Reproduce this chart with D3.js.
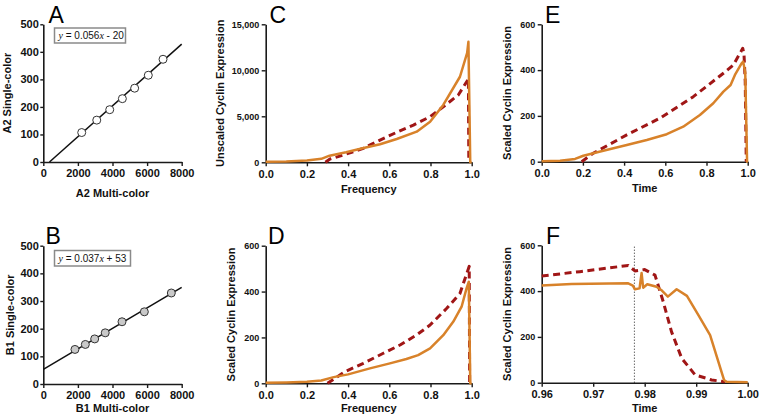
<!DOCTYPE html>
<html><head><meta charset="utf-8">
<script src="https://cdn.jsdelivr.net/npm/d3@7"></script>
<style>
body{margin:0;background:#fff}
svg{display:block}
text{font-family:"Liberation Sans",Arial,sans-serif}
</style>
</head><body>
<svg id="chart" width="761" height="419"></svg>
<script>
// ---------- DATA ----------
// Panel A (calibration, A2)
const a2Multi  = [2220, 3090, 3840, 4570, 5280, 6070, 6920];
const a2Single = [107, 152, 190, 230, 268, 315, 373];
const aSlope = 0.056, aIntercept = -20;
// Panel B (calibration, B1)
const b1Multi  = [1830, 2430, 2970, 3580, 4550, 5840, 7400];
const b1Single = [125, 143, 163, 185, 225, 261, 329];
const bSlope = 0.037, bIntercept = 53;
// Tick labels
const calXTicks = [0, 2000, 4000, 6000, 8000];
const calYTicks = [0, 100, 200, 300, 400, 500];
const freqTicks = [0, 0.2, 0.4, 0.6, 0.8, 1.0];
const unscaledTicks = [0, 5000, 10000, 15000];
const scaledTicks = [0, 200, 400, 600];
const zoomTimeTicks = [0.96, 0.97, 0.98, 0.99, 1.00];
// Panel C (unscaled vs frequency)
const cSolidX = [0, 0.1, 0.2, 0.27, 0.31, 0.39, 0.47, 0.555, 0.636, 0.733, 0.798, 0.862, 0.943, 0.978, 0.984, 0.993, 1.0];
const cSolidY = [50, 100, 200, 380, 720, 1090, 1520, 1960, 2530, 3330, 4410, 6230, 9300, 11900, 13100, 0, 0];
const cDashX = [0.29, 0.312, 0.377, 0.474, 0.555, 0.636, 0.717, 0.798, 0.862, 0.935, 0.981, 0.984, 0.986];
const cDashY = [0, 360, 790, 1520, 2420, 3260, 4050, 4960, 6040, 7320, 8950, 9100, 0];
// Panel D (scaled vs frequency)
const dSolidX = [0, 0.1, 0.2, 0.27, 0.33, 0.40, 0.506, 0.603, 0.683, 0.74, 0.798, 0.862, 0.911, 0.951, 0.975, 0.986, 0.993, 1.0];
const dSolidY = [2, 4, 7, 12, 27, 39, 65, 87, 106, 123, 152, 210, 269, 334, 414, 443, 0, 0];
const dDashX = [0.30, 0.385, 0.474, 0.571, 0.652, 0.733, 0.798, 0.879, 0.943, 0.988, 0.99];
const dDashY = [0, 51, 87, 131, 167, 211, 254, 327, 392, 510, 0];
// Panel E (scaled vs time)
const eSolidX = [0, 0.089, 0.162, 0.202, 0.299, 0.413, 0.51, 0.607, 0.687, 0.768, 0.833, 0.882, 0.917, 0.938, 0.971, 0.978, 0.988, 0.997, 1.0];
const eSolidY = [2, 4, 12, 26, 48, 73, 95, 120, 153, 204, 255, 306, 335, 379, 430, 437, 390, 0, 0];
const eDashX = [0.194, 0.25, 0.413, 0.574, 0.736, 0.882, 0.93, 0.976, 0.982, 0.988, 0.993];
const eDashY = [0, 37, 117, 190, 284, 386, 422, 495, 470, 350, 0];
// Panel F (zoom on end of cycle)
const fSolidX = [0.96, 0.9658, 0.9768, 0.9777, 0.9781, 0.979, 0.9794, 0.9797, 0.9805, 0.9823, 0.9832, 0.9845, 0.9862, 0.9882, 0.9904, 0.9927, 0.9954, 0.9959, 1.0];
const fSolidY = [424, 431, 434, 424, 408, 412, 479, 415, 430, 419, 405, 376, 408, 379, 296, 208, 12, 4, 2];
const fDashX = [0.96, 0.9674, 0.9768, 0.9781, 0.980, 0.982, 0.9836, 0.9852, 0.9872, 0.9898, 0.993, 0.9956];
const fDashY = [466, 485, 512, 488, 494, 470, 354, 223, 106, 34, 12, 4];
const fDivider = 0.978;

// ---------- STYLE ----------
const AXIS = "#1a1a1a";
const ORANGE = "#d8822a";
const RED = "#a01616";
const svg = d3.select("#chart");

function makePanel(c) {
  const x = d3.scaleLinear().domain(c.xd).range([c.x0, c.x1]);
  const y = d3.scaleLinear().domain(c.yd).range([c.y0, c.y1]);
  const g = svg.append("g");

  const xa = g.append("g").attr("transform", `translate(0,${c.y0})`)
    .call(d3.axisBottom(x).tickValues(c.xt).tickFormat(c.xf)
      .tickSize(4).tickPadding(3.5).tickSizeOuter(0));
  const ya = g.append("g").attr("transform", `translate(${c.x0},0)`)
    .call(d3.axisLeft(y).tickValues(c.yt).tickFormat(c.yf)
      .tickSize(c.yts).tickPadding(c.ytp).tickSizeOuter(0));
  [xa, ya].forEach(a => {
    a.attr("font-family", null).attr("font-size", null);
    a.select(".domain").attr("stroke", AXIS).attr("stroke-width", 1.6);
    a.selectAll(".tick line").attr("stroke", AXIS).attr("stroke-width", 1.4);
    a.selectAll(".tick text").attr("fill", "#111").style("font-weight", "bold");
  });
  xa.selectAll(".tick text").style("font-size", "11px");
  ya.selectAll(".tick text").style("font-size", c.yfs + "px");

  g.append("text").attr("x", (c.x0 + c.x1) / 2).attr("y", c.xty)
    .attr("text-anchor", "middle").style("font-size", "11px").style("font-weight", "bold")
    .attr("fill", "#111").text(c.xtitle);
  g.append("text").attr("transform", `translate(${c.ytx},${(c.y0 + c.y1) / 2}) rotate(-90)`)
    .attr("text-anchor", "middle").style("font-size", "11px").style("font-weight", "bold")
    .attr("fill", "#111").text(c.ytitle);
  g.append("text").attr("x", c.lx).attr("y", c.ly).style("font-size", "23px")
    .attr("fill", "#000").text(c.letter);
  return {x, y, g};
}

function calibration(p, xs, ys, slope, intercept, fill, eqText, box) {
  const xStart = Math.max(0, -intercept / slope);
  p.g.append("line")
    .attr("x1", p.x(xStart)).attr("y1", p.y(slope * xStart + intercept))
    .attr("x2", p.x(8000)).attr("y2", p.y(slope * 8000 + intercept))
    .attr("stroke", "#111").attr("stroke-width", 1.5);
  p.g.selectAll("circle.pt").data(xs.map((v, i) => [v, ys[i]])).enter()
    .append("circle").attr("class", "pt")
    .attr("cx", d => p.x(d[0])).attr("cy", d => p.y(d[1])).attr("r", 4)
    .attr("fill", fill).attr("stroke", "#333").attr("stroke-width", 1);
  p.g.append("rect").attr("x", box[0]).attr("y", box[1]).attr("width", box[2]).attr("height", box[3])
    .attr("fill", "#fff").attr("stroke", "#8a8a8a").attr("stroke-width", 1.5);
  const t = p.g.append("text").attr("x", box[0] + 4).attr("y", box[1] + box[3] - 4.5)
    .style("font-size", "10px").attr("fill", "#111");
  t.append("tspan").style("font-family", "'Liberation Serif','Times New Roman',serif").style("font-style", "italic").text("y");
  t.append("tspan").text(" = " + eqText[0]);
  t.append("tspan").style("font-family", "'Liberation Serif','Times New Roman',serif").style("font-style", "italic").text("x");
  t.append("tspan").text(" " + eqText[1]);
}

function curves(p, sx, sy, dx, dy) {
  const line = d3.line().x(d => p.x(d[0])).y(d => p.y(d[1]));
  p.g.append("path").datum(dx.map((v, i) => [v, dy[i]])).attr("d", line)
    .attr("fill", "none").attr("stroke", RED).attr("stroke-width", 3)
    .attr("stroke-dasharray", "7,4.5").attr("stroke-linejoin", "round");
  p.g.append("path").datum(sx.map((v, i) => [v, sy[i]])).attr("d", line)
    .attr("fill", "none").attr("stroke", ORANGE).attr("stroke-width", 2.5)
    .attr("stroke-linejoin", "round");
}

const fmtInt = d3.format("d"), fmtComma = d3.format(","), fmt1 = d3.format(".1f"), fmt2 = d3.format(".2f");

// Panel A
const pA = makePanel({x0: 43.3, x1: 181.7, y0: 162, y1: 24.3, xd: [0, 8000], yd: [0, 500],
  xt: calXTicks, yt: calYTicks, xf: fmtInt, yf: fmtInt, yts: 3, ytp: 1.5, yfs: 11,
  xtitle: "A2 Multi-color", xty: 196.5, ytitle: "A2 Single-color", ytx: 10.8,
  letter: "A", lx: 48.5, ly: 23});
calibration(pA, a2Multi, a2Single, aSlope, aIntercept, "#fff", ["0.056", "- 20"], [54.5, 28, 71, 15]);

// Panel B
const pB = makePanel({x0: 43.3, x1: 181.7, y0: 384, y1: 245.7, xd: [0, 8000], yd: [0, 500],
  xt: calXTicks, yt: calYTicks, xf: fmtInt, yf: fmtInt, yts: 3, ytp: 1.5, yfs: 11,
  xtitle: "B1 Multi-color", xty: 412, ytitle: "B1 Single-color", ytx: 13.7,
  letter: "B", lx: 45.5, ly: 244});
calibration(pB, b1Multi, b1Single, bSlope, bIntercept, "#c9c9c9", ["0.037", "+ 53"], [54.5, 250.5, 76, 15.5]);

// Panel C
const pC = makePanel({x0: 265.7, x1: 471.7, y0: 162.3, y1: 24.3, xd: [0, 1], yd: [0, 15000],
  xt: freqTicks, yt: unscaledTicks, xf: fmt1, yf: fmtComma, yts: 4, ytp: 2.5, yfs: 9,
  xtitle: "Frequency", xty: 192.5, ytitle: "Unscaled Cyclin Expression", ytx: 224.4,
  letter: "C", lx: 269.5, ly: 23.3});
curves(pC, cSolidX, cSolidY, cDashX, cDashY);

// Panel D
const pD = makePanel({x0: 265.7, x1: 471.7, y0: 383.3, y1: 245.7, xd: [0, 1], yd: [0, 600],
  xt: freqTicks, yt: scaledTicks, xf: fmt1, yf: fmtInt, yts: 4, ytp: 2.5, yfs: 9,
  xtitle: "Frequency", xty: 412.3, ytitle: "Scaled Cyclin Expression", ytx: 235,
  letter: "D", lx: 268, ly: 244});
curves(pD, dSolidX, dSolidY, dDashX, dDashY);

// Panel E
const pE = makePanel({x0: 541.7, x1: 747.7, y0: 161.7, y1: 24.3, xd: [0, 1], yd: [0, 600],
  xt: freqTicks, yt: scaledTicks, xf: fmt1, yf: fmtInt, yts: 4, ytp: 2.5, yfs: 9,
  xtitle: "Time", xty: 192, ytitle: "Scaled Cyclin Expression", ytx: 511,
  letter: "E", lx: 545, ly: 23.3});
curves(pE, eSolidX, eSolidY, eDashX, eDashY);

// Panel F
const pF = makePanel({x0: 541.7, x1: 747.7, y0: 382.7, y1: 245.3, xd: [0.96, 1.0], yd: [0, 600],
  xt: zoomTimeTicks, yt: scaledTicks, xf: fmt2, yf: fmtInt, yts: 4, ytp: 2.5, yfs: 9,
  xtitle: "Time", xty: 412, ytitle: "Scaled Cyclin Expression", ytx: 511,
  letter: "F", lx: 546, ly: 244.3});
pF.g.append("line").attr("x1", pF.x(fDivider)).attr("x2", pF.x(fDivider))
  .attr("y1", pF.y(0)).attr("y2", pF.y(600))
  .attr("stroke", "#222").attr("stroke-width", 1).attr("stroke-dasharray", "1,2");
curves(pF, fSolidX, fSolidY, fDashX, fDashY);
</script>
</body></html>
